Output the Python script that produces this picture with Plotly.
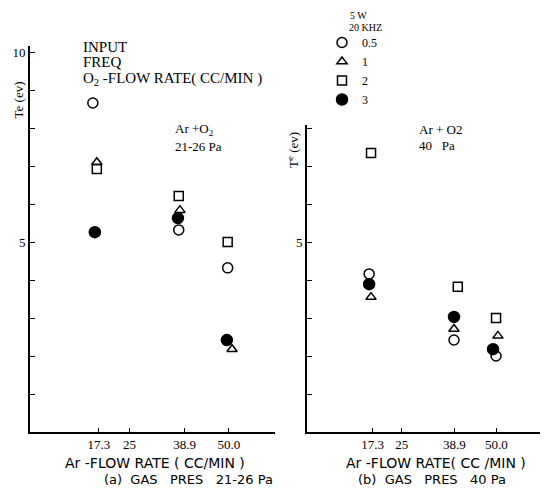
import plotly.graph_objects as go

# ---- data ----
series_names = ["0.5", "1", "2", "3"]
symbols = ["circle-open", "triangle-up-open", "square-open", "circle"]
sizes = [10, 9, 9, 11]

# panel (a) GAS PRES 21-26 Pa
a_x = {
    "0.5": [15.8, 37.4, 49.7],
    "1":   [16.8, 37.7, 50.8],
    "2":   [16.8, 37.4, 49.7],
    "3":   [16.3, 37.2, 49.5],
}
a_te = {
    "0.5": [8.66, 5.32, 4.32],
    "1":   [7.10, 5.84, 2.18],
    "2":   [6.92, 6.21, 5.00],
    "3":   [5.26, 5.63, 2.42],
}
# panel (b) GAS PRES 40 Pa
b_x = {
    "0.5": [16.4, 38.8, 49.9],
    "1":   [16.9, 38.8, 50.4],
    "2":   [16.9, 39.8, 49.9],
    "3":   [16.4, 38.8, 49.1],
}
b_te = {
    "0.5": [4.16, 2.42, 2.00],
    "1":   [3.55, 2.71, 2.53],
    "2":   [7.34, 3.82, 3.00],
    "3":   [3.89, 3.03, 2.18],
}

x_tickvals = [17.3, 25, 38.9, 50.0]
x_ticktext = ["17.3", "25", "38.9", "50.0"]
a_ytickvals = [5, 10]
a_yminor = [1, 2, 3, 4, 6, 7, 8, 9]
b_ytickvals = [5]
b_yminor = [1, 2, 3, 4, 6, 7, 8]

# page has an 8px body margin: the figure is drawn from (8, 8)
OFF = 8
W, H = 549 - OFF, 492 - OFF
SERIF = "Liberation Serif"
SANS = "DejaVu Sans"

fig = go.Figure()
for name, sym, sz in zip(series_names, symbols, sizes):
    fig.add_trace(go.Scatter(
        x=a_x[name], y=a_te[name], mode="markers", name=name,
        legendgroup=name, showlegend=True,
        marker=dict(symbol=sym, size=sz, color="black",
                    line=dict(color="black", width=1.5)),
        xaxis="x", yaxis="y"))
    fig.add_trace(go.Scatter(
        x=b_x[name], y=b_te[name], mode="markers", name=name,
        legendgroup=name, showlegend=False,
        marker=dict(symbol=sym, size=sz, color="black",
                    line=dict(color="black", width=1.5)),
        xaxis="x2", yaxis="y2"))

def px_x(p):
    return (p - OFF) / W

def px_y(p):
    return 1 - (p - OFF) / H

axis_common = dict(showgrid=False, zeroline=False, showline=True,
                   linecolor="black", ticks="inside", tickcolor="black",
                   tickfont=dict(family=SERIF, size=13, color="black"))

def minor(vals):
    return dict(tickmode="array", tickvals=vals, ticks="inside", ticklen=5,
                tickcolor="black", showgrid=False)

fig.update_layout(
    width=W, height=H,
    margin=dict(l=0, r=0, t=0, b=0),
    paper_bgcolor="white", plot_bgcolor="white",
    xaxis=dict(domain=[px_x(30), px_x(275)], range=[0, 61.6],
               tickvals=x_tickvals, ticktext=x_ticktext,
               ticklen=4, linewidth=1.5, anchor="y", **axis_common),
    yaxis=dict(domain=[px_y(432), px_y(46)], range=[0, 10.16],
               tickvals=a_ytickvals, ticktext=[str(v) for v in a_ytickvals],
               minor=minor(a_yminor),
               ticklen=5, linewidth=2, anchor="x", **axis_common),
    xaxis2=dict(domain=[px_x(307), px_x(540)], range=[0, 61.5],
                tickvals=x_tickvals, ticktext=x_ticktext,
                ticklen=4, linewidth=1.5, anchor="y2", **axis_common),
    yaxis2=dict(domain=[px_y(432), px_y(125)], range=[0, 8.08],
                tickvals=b_ytickvals, ticktext=[str(v) for v in b_ytickvals],
                minor=minor(b_yminor),
                ticklen=5, linewidth=2, anchor="x2", **axis_common),
    showlegend=True,
    legend=dict(x=px_x(322), y=px_y(28), xanchor="left", yanchor="top",
                bgcolor="rgba(0,0,0,0)", tracegroupgap=0,
                font=dict(family=SERIF, size=12, color="black")),
)

def ann(text, x, y, size=13, family=SERIF, xanchor="left", angle=0, yanchor="middle"):
    fig.add_annotation(text=text, x=px_x(x), y=px_y(y), xref="paper", yref="paper",
                       showarrow=False, xanchor=xanchor, yanchor=yanchor,
                       textangle=angle,
                       font=dict(family=family, size=size, color="black"))

# legend header
ann("5 W", 358, 8, size=10, xanchor="center", yanchor="top")
ann("20 KHZ", 365, 28, size=10, xanchor="center")

# left panel notes
ann("INPUT", 81, 47, size=15)
ann("FREQ", 81, 62, size=15)
ann("O<sub>2</sub> -FLOW RATE( CC/MIN )", 81, 79, size=15)
ann("Ar +O<sub>2</sub>", 173, 130, size=13)
ann("21-26 Pa", 173, 146, size=13)

# right panel notes
ann("Ar + O2", 417, 130, size=13)
ann("40   Pa", 417, 145, size=13)

# y-axis titles
ann("Te (ev)", 8, 100, size=13, xanchor="left", angle=-90)
ann("T<sup>e</sup> (ev)", 293, 150, size=13, xanchor="center", angle=-90)

# x-axis titles and captions
ann("Ar -FLOW RATE ( CC/MIN )", 155, 463, size=14, family=SANS, xanchor="center")
ann("(a)  GAS   PRES   21-26 Pa", 188, 479, size=13, family=SANS, xanchor="center")
ann("Ar -FLOW RATE( CC /MIN )", 436, 463, size=14, family=SANS, xanchor="center")
ann("(b)  GAS   PRES   40 Pa", 432, 479, size=13, family=SANS, xanchor="center")

fig.write_html("out.html")
